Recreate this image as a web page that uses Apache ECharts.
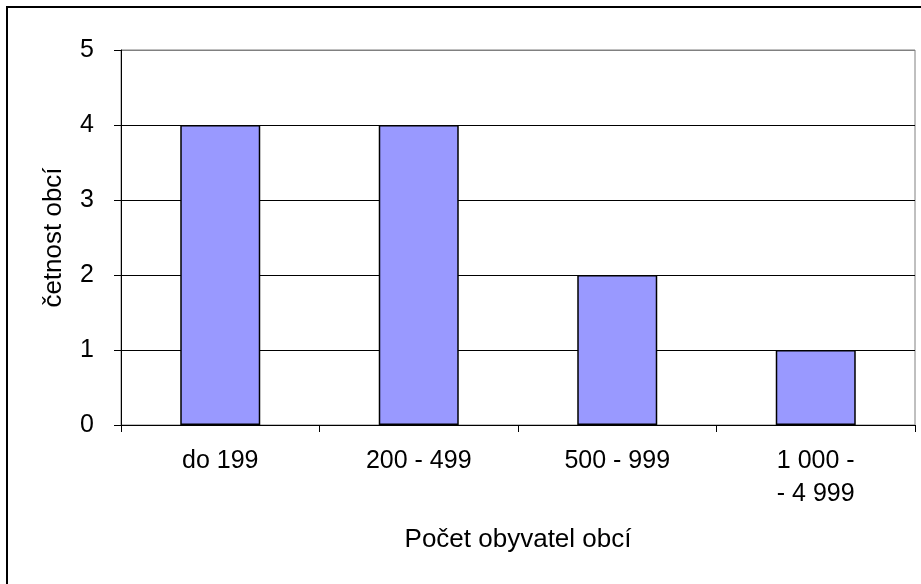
<!DOCTYPE html>
<html>
<head>
<meta charset="utf-8">
<script src="https://cdn.jsdelivr.net/npm/echarts@6/dist/echarts.min.js"></script>
<style>
  html, body { margin: 0; padding: 0; background: #fff; }
  #chart { width: 921px; height: 584px; }
</style>
</head>
<body>
<div id="chart"></div>
<script>
// data
var categories = ['do 199', '200 - 499', '500 - 999', '1 000 -\n- 4 999'];
var counts = [4, 4, 2, 1];
var yTicks = [0, 1, 2, 3, 4, 5];

var fontFamily = 'Arial, "Liberation Sans", sans-serif';

var chart = echarts.init(document.getElementById('chart'), null, { renderer: 'canvas' });

var option = {
  backgroundColor: '#fff',
  animation: false,
  textStyle: { fontFamily: fontFamily, color: '#000' },
  graphic: [{
    // outer chart border (only left and top are visible in the frame)
    type: 'rect',
    shape: { x: 7, y: 7, width: 1000, height: 1000 },
    style: { fill: 'none', stroke: '#000', lineWidth: 2 },
    silent: true,
    z: 100
  }],
  grid: {
    left: 121,
    right: 6,
    top: 50,
    bottom: 159,
    show: true,
    borderColor: '#808080',
    borderWidth: 1,
    backgroundColor: '#fff'
  },
  xAxis: {
    type: 'category',
    data: categories,
    name: 'Počet obyvatel obcí',
    nameLocation: 'middle',
    nameGap: 102,
    nameTextStyle: { fontSize: 26, color: '#000', fontFamily: fontFamily },
    axisLine: { lineStyle: { color: '#000', width: 1 } },
    axisTick: { show: true, length: 7, lineStyle: { color: '#000' } },
    axisLabel: {
      fontSize: 25,
      color: '#000',
      margin: 20,
      lineHeight: 33,
      fontFamily: fontFamily
    },
    splitLine: { show: false }
  },
  yAxis: {
    type: 'value',
    min: yTicks[0],
    max: yTicks[yTicks.length - 1],
    interval: 1,
    name: 'četnost obcí',
    nameLocation: 'middle',
    nameGap: 54,
    nameTextStyle: { fontSize: 26, color: '#000', fontFamily: fontFamily },
    axisLine: { show: true, lineStyle: { color: '#000', width: 1 } },
    axisTick: { show: true, length: 7, lineStyle: { color: '#000' } },
    axisLabel: { fontSize: 25, color: '#000', margin: 27, fontFamily: fontFamily },
    splitLine: {
      show: true,
      lineStyle: {
        color: ['#000', '#000', '#000', '#000', '#000', '#808080'],
        width: 1
      }
    }
  },
  series: [{
    type: 'bar',
    data: counts,
    barWidth: 80,
    itemStyle: {
      color: '#9999FF',
      borderColor: '#000',
      borderWidth: 1.5
    }
  }]
};

chart.setOption(option);
</script>
</body>
</html>
